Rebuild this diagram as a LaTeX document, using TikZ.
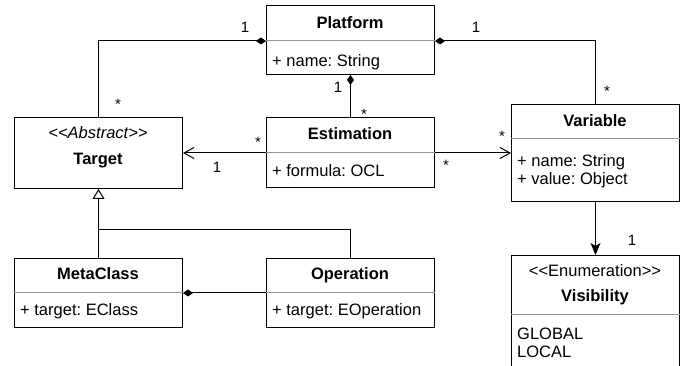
\documentclass[tikz,border=0pt]{standalone}
\usepackage{fontspec}
\setmainfont{Liberation Sans}
\frenchspacing
\usetikzlibrary{arrows.meta,calc}
\definecolor{divgray}{RGB}{150,150,150}
\begin{document}
\begin{tikzpicture}[x=1pt,y=-1pt,
  box/.style={draw, line width=1pt, anchor=north west, inner sep=0pt, minimum width=168pt},
  div/.style={draw=divgray, line width=1pt},
  conn/.style={draw, line width=1pt},
  ttl/.style={anchor=base, inner sep=0pt, font=\fontsize{16.5}{18}\selectfont\bfseries},
  ster/.style={anchor=base, inner sep=0pt, font=\fontsize{16.5}{18}\selectfont},
  attr/.style={anchor=base west, inner sep=0pt, font=\fontsize{16.5}{18}\selectfont},
  mult/.style={anchor=base, inner sep=0pt, font=\fontsize{15}{18}\selectfont},
  comp/.style={-{Diamond[length=10pt,width=7pt]}},
  openarr/.style={-{Straight Barb[length=10pt,width=11pt,line width=1pt]}},
  filledarr/.style={-{Stealth[length=12pt,width=10pt,inset=3pt]}},
  gen/.style={-{Triangle[open,length=10pt,width=12pt,line width=1pt,fill=white]}}
]
\clip (0,0) rectangle (689,366);
\fill[white] (0,0) rectangle (689,366);

% class boxes
\node[box, minimum height=69pt] (plat) at (266,5) {};
\node[box, minimum height=71pt] (target) at (14,117) {};
\node[box, minimum height=70pt] (est) at (266,117) {};
\node[box, minimum height=97pt] (var) at (511,104) {};
\node[box, minimum height=69pt] (meta) at (14,258) {};
\node[box, minimum height=69pt] (oper) at (266,258) {};
\node[box, minimum height=160pt] (vis) at (511,255) {};

% dividers
\coordinate (platD) at (266,41);
\coordinate (estD) at (266,153);
\coordinate (varD) at (511,139);
\coordinate (metaD) at (14,293);
\coordinate (operD) at (266,293);
\coordinate (visD) at (511,315);
\draw[div] (platD) -- (platD -| plat.east);
\draw[div] (estD) -- (estD -| est.east);
\draw[div] (varD) -- (varD -| var.east);
\draw[div] (metaD) -- (metaD -| meta.east);
\draw[div] (operD) -- (operD -| oper.east);
\draw[div] (visD) -- (visD -| vis.east);

% texts
\node[ttl] (platT) at (350,28.5) {Platform};
\node[attr] (platA) at (272,67) {+ name: String};
\node[ster, font=\fontsize{16.5}{18}\selectfont\itshape] (targetS) at (98,139) {{<}{<}Abstract{>}{>}};
\node[ttl] (targetT) at (98,165) {Target};
\node[ttl] (estT) at (350,140) {Estimation};
\node[attr] (estA) at (272,177) {+ formula: OCL};
\node[ttl] (varT) at (595,127) {Variable};
\node[attr] (varA1) at (517,167) {+ name: String};
\node[attr] (varA2) at (517,185) {+ value: Object};
\node[ttl] (metaT) at (98,280) {MetaClass};
\node[attr] (metaA) at (20,316) {+ target: EClass};
\node[ttl] (operT) at (350,280) {Operation};
\node[attr] (operA) at (272,316) {+ target: EOperation};
\node[ster] (visS) at (595,277) {{<}{<}Enumeration{>}{>}};
\node[ttl] (visT) at (595,302) {Visibility};
\node[attr] (visA1) at (517,340) {GLOBAL};
\node[attr] (visA2) at (517,358) {LOCAL};

% connectors
\draw[conn,comp] (target.north) |- (platD);
\draw[conn,comp] (var.north) |- (platD -| plat.east);
\draw[conn,comp] (est.north) -- (plat.south);
\draw[conn,openarr] (estD) -- (estD -| target.east);
\draw[conn,openarr] (estD -| est.east) -- (estD -| var.west);
\draw[conn,filledarr] (var.south) -- (vis.north);
\coordinate (gj) at (98,230);
\draw[conn,gen] (meta.north) -- (target.south);
\draw[conn] (oper.north) |- (meta.north |- gj);
\draw[conn,comp] (operD) -- (operD -| meta.east);

% multiplicities
\node[mult] (m1) at (245,32.5) {1};
\node[mult] (m2) at (118,110) {*};
\node[mult] (m3) at (476,32.5) {1};
\node[mult] (m4) at (607,96.5) {*};
\node[mult] (m5) at (338,92.5) {1};
\node[mult] (m6) at (364,119.5) {*};
\node[mult] (m7) at (258,148) {*};
\node[mult] (m8) at (217,172.5) {1};
\node[mult] (m9) at (446,171) {*};
\node[mult] (m10) at (502,142) {*};
\node[mult] (m11) at (632,245.5) {1};
\end{tikzpicture}
\end{document}
